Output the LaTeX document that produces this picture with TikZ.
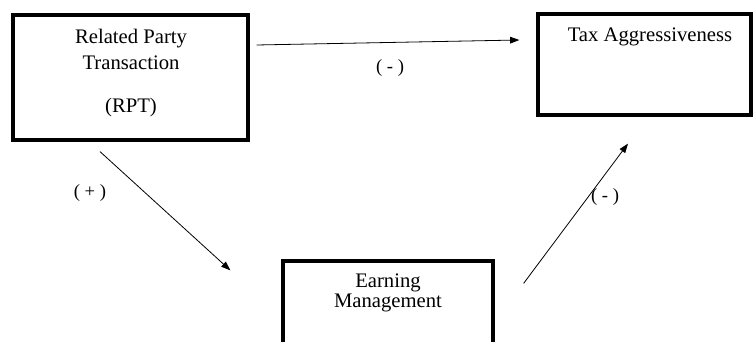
\documentclass[tikz,border=0pt]{standalone}
\usepackage{fontspec}
\setmainfont{Liberation Serif}
\usetikzlibrary{positioning,arrows.meta,calc}

\begin{document}
\begin{tikzpicture}[x=0.75pt,y=0.75pt,
  box/.style={draw,line width=2.4pt,inner sep=0pt},
  txt/.style={align=center,inner sep=0pt,font=\fontsize{15.5}{20}\selectfont},
  sign/.style={inner sep=0pt,font=\fontsize{14}{16}\selectfont},
  >={Triangle[length=7pt,width=5pt]}]
  \clip (0,0) rectangle (753,342);
  % boxes
  \node[box,minimum width=176.25pt,minimum height=93.75pt] (rpt) at (130.5,264.5) {};
  \node[box,minimum width=159.75pt,minimum height=75.75pt] (tax) at (644.5,277.5) {};
  \node[box,minimum width=157.5pt,minimum height=104.25pt] (em) at (388,11.5) {};
  \node[txt] (rpttext) at (131,269) {Related Party\\Transaction\\[12pt](RPT)};
  \node[txt] (taxtext) at (650,305) {Tax Aggressiveness};
  \node[txt,font=\fontsize{15.5}{15}\selectfont] (emtext) at (388,49) {Earning\\Management};
  % relations
  \draw[->,line width=0.6pt] ($(rpt.east)+(7,32.5)$) -- ($(tax.west)+(-17,24.5)$);
  \draw[->,line width=0.6pt] ($(rpt.south)+(-30.5,-10)$) -- ($(em.north west)+(-51,-11)$);
  \draw[->,line width=0.6pt] ($(em.north east)+(29,-24)$) -- ($(tax.south)+(-16.5,-27)$);
  \node[sign] (s1) at (390,274) {( - )};
  \node[sign] (s2) at (90,149) {( + )};
  \node[sign] (s3) at (605,145) {( - )};
\end{tikzpicture}
\end{document}
